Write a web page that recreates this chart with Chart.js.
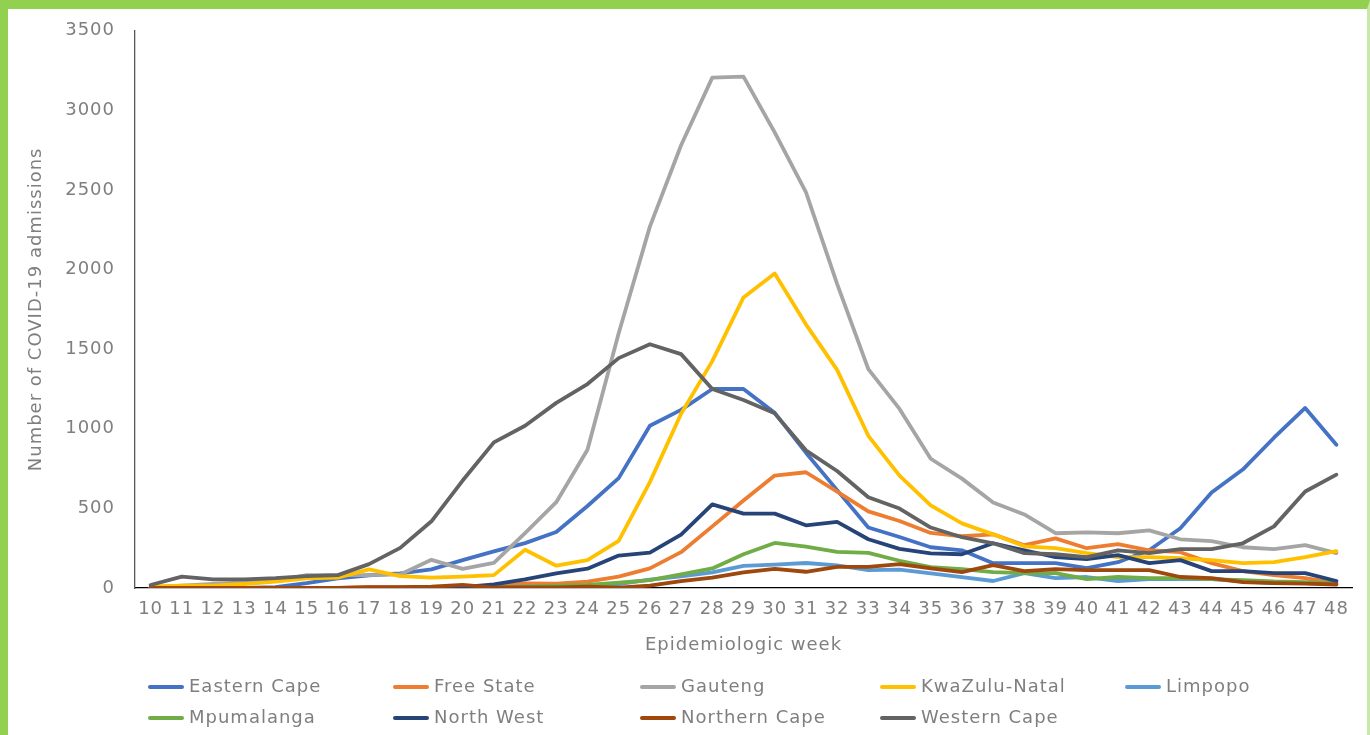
<!DOCTYPE html>
<html>
<head>
<meta charset="utf-8">
<script src="https://cdn.jsdelivr.net/npm/chart.js@4/dist/chart.umd.min.js"></script>
<style>
  html, body { margin: 0; padding: 0; background: #fff; }
  #wrap { position: relative; width: 1370px; height: 735px; overflow: hidden; }
  #frame {
    position: absolute; left: 0; top: 0; width: 1370px; height: 735px; box-sizing: border-box;
    border-top: 9px solid #92D050; border-left: 8px solid #92D050; border-right: 3px solid #c9e7a7;
    pointer-events: none;
  }
</style>
</head>
<body>
<div id="wrap">
  <canvas id="admChart" width="1370" height="735"></canvas>
  <div id="frame"></div>
</div>
<script>
// ------------------------------------------
// data
// ------------------------------------------
const weeks = ['10','11','12','13','14','15','16','17','18','19','20','21','22','23','24','25','26','27','28','29',
               '30','31','32','33','34','35','36','37','38','39','40','41','42','43','44','45','46','47','48'];

const easternCape  = [0,0,0,0,5,30,60,80,92,117,175,230,282,352,515,690,1019,1119,1250,1250,1100,850,615,380,320,256,237,156,156,156,125,162,237,375,600,744,944,1131,900];
const freeState    = [0,0,0,0,0,0,0,5,5,5,10,10,29,28,40,71,123,225,387,550,706,727,605,481,421,346,325,337,269,312,250,275,237,225,156,106,81,62,31];
const gauteng      = [5,15,25,35,45,81,81,81,85,177,120,158,345,539,869,1600,2270,2781,3206,3212,2862,2487,1910,1375,1125,812,687,537,462,344,350,344,362,306,294,256,244,269,219];
const kwaZuluNatal = [8,15,15,25,40,60,65,117,75,65,71,81,240,140,175,296,665,1094,1425,1825,1975,1656,1370,956,706,519,406,337,262,250,219,194,194,187,175,156,162,194,231];
const limpopo      = [0,0,0,0,0,0,0,0,0,5,5,5,8,10,15,25,52,73,98,139,147,157,142,112,115,92,69,44,94,62,69,44,56,56,56,41,31,31,25];
const mpumalanga   = [0,0,0,0,0,0,0,0,0,0,2,2,8,15,19,33,50,85,123,212,283,260,227,221,171,131,119,100,94,94,56,69,62,62,56,50,41,37,31];
const northWest    = [0,0,0,0,0,0,0,0,0,0,5,22,54,92,121,204,222,335,525,467,467,394,415,306,246,218,212,281,237,194,181,206,156,175,106,106,94,94,44];
const northernCape = [0,0,0,0,0,0,0,5,5,8,20,3,3,3,8,2,15,43,65,98,120,102,133,133,150,124,100,144,106,119,112,112,112,69,62,37,31,28,22];
const westernCape  = [19,71,54,54,62,75,81,150,252,419,675,915,1019,1163,1281,1444,1531,1469,1250,1181,1097,865,735,570,499,380,319,281,219,212,194,237,219,244,244,281,387,606,712];

const provinces = ['Eastern Cape','Free State','Gauteng','KwaZulu-Natal','Limpopo','Mpumalanga','North West','Northern Cape','Western Cape'];
const seriesValues = [easternCape, freeState, gauteng, kwaZuluNatal, limpopo, mpumalanga, northWest, northernCape, westernCape];
const seriesColors = ['#4472C4','#ED7D31','#A5A5A5','#FFC000','#5B9BD5','#70AD47','#264478','#9E480E','#636363'];

const yTicks = [0, 500, 1000, 1500, 2000, 2500, 3000, 3500];

const textColor = '#7F7F7F';
const textFont = { family: "'DejaVu Sans', sans-serif", size: 18, weight: 'normal' };

// letter spacing to get closer to the wide office font
const spacingPlugin = {
    id: 'spacing',
    beforeUpdate(chart) { chart.ctx.letterSpacing = '1px'; },
    beforeDraw(chart) { chart.ctx.letterSpacing = '1px'; }
};

// legend in a fixed 5-column grid below the axis
const gridLegend = {
    id: 'gridLegend',
    afterDraw(chart) {
        const ctx = chart.ctx;
        const colX = [150, 395, 642, 882, 1127];
        const rowY = [687, 718];
        ctx.save();
        ctx.font = `${textFont.size}px ${textFont.family}`;
        ctx.textBaseline = 'middle';
        ctx.textAlign = 'left';
        chart.data.datasets.forEach((ds, i) => {
            const x = colX[i % 5];
            const y = rowY[Math.floor(i / 5)];
            ctx.strokeStyle = ds.borderColor;
            ctx.lineWidth = 4;
            ctx.lineCap = 'round';
            ctx.beginPath();
            ctx.moveTo(x, y);
            ctx.lineTo(x + 32, y);
            ctx.stroke();
            ctx.fillStyle = textColor;
            ctx.fillText(ds.label, x + 39, y);
        });
        ctx.restore();
    }
};

const datasets = provinces.map((name, i) => ({
    label: name,
    data: seriesValues[i],
    borderColor: seriesColors[i],
    backgroundColor: seriesColors[i],
    borderWidth: 3.8,
    pointRadius: 0,
    tension: 0,
    borderJoinStyle: 'round',
    borderCapStyle: 'round',
    order: provinces.length - i   // later series on top, like the original
}));

new Chart(document.getElementById('admChart'), {
    type: 'line',
    data: { labels: weeks, datasets: datasets },
    options: {
        responsive: false,
        animation: false,
        layout: { padding: { left: 0, top: 28, right: 18, bottom: 0 } },
        plugins: {
            legend: { display: false },
            tooltip: { enabled: false }
        },
        scales: {
            x: {
                offset: true,
                grid: { display: false, drawTicks: false },
                border: { display: true, color: '#000000', width: 1.3 },
                ticks: { color: textColor, font: textFont, padding: 11, maxRotation: 0, autoSkip: false },
                title: { display: true, text: 'Epidemiologic week', color: textColor, font: textFont, padding: { top: 0, bottom: 79 } },
                afterFit(scale) { scale.height = 147; }
            },
            y: {
                min: 0,
                max: 3500,
                afterBuildTicks(scale) { scale.ticks = yTicks.map(v => ({ value: v })); },
                grid: { display: false, drawTicks: false },
                border: { display: true, color: '#595959', width: 1.3 },
                ticks: { color: textColor, font: textFont, padding: 20, callback: v => String(v) },
                title: { display: true, text: 'Number of COVID-19 admissions', color: textColor, font: textFont, padding: { top: 26, bottom: 0 } },
                afterFit(scale) { scale.width = 135; }
            }
        }
    },
    plugins: [spacingPlugin, gridLegend]
});
</script>
</body>
</html>
